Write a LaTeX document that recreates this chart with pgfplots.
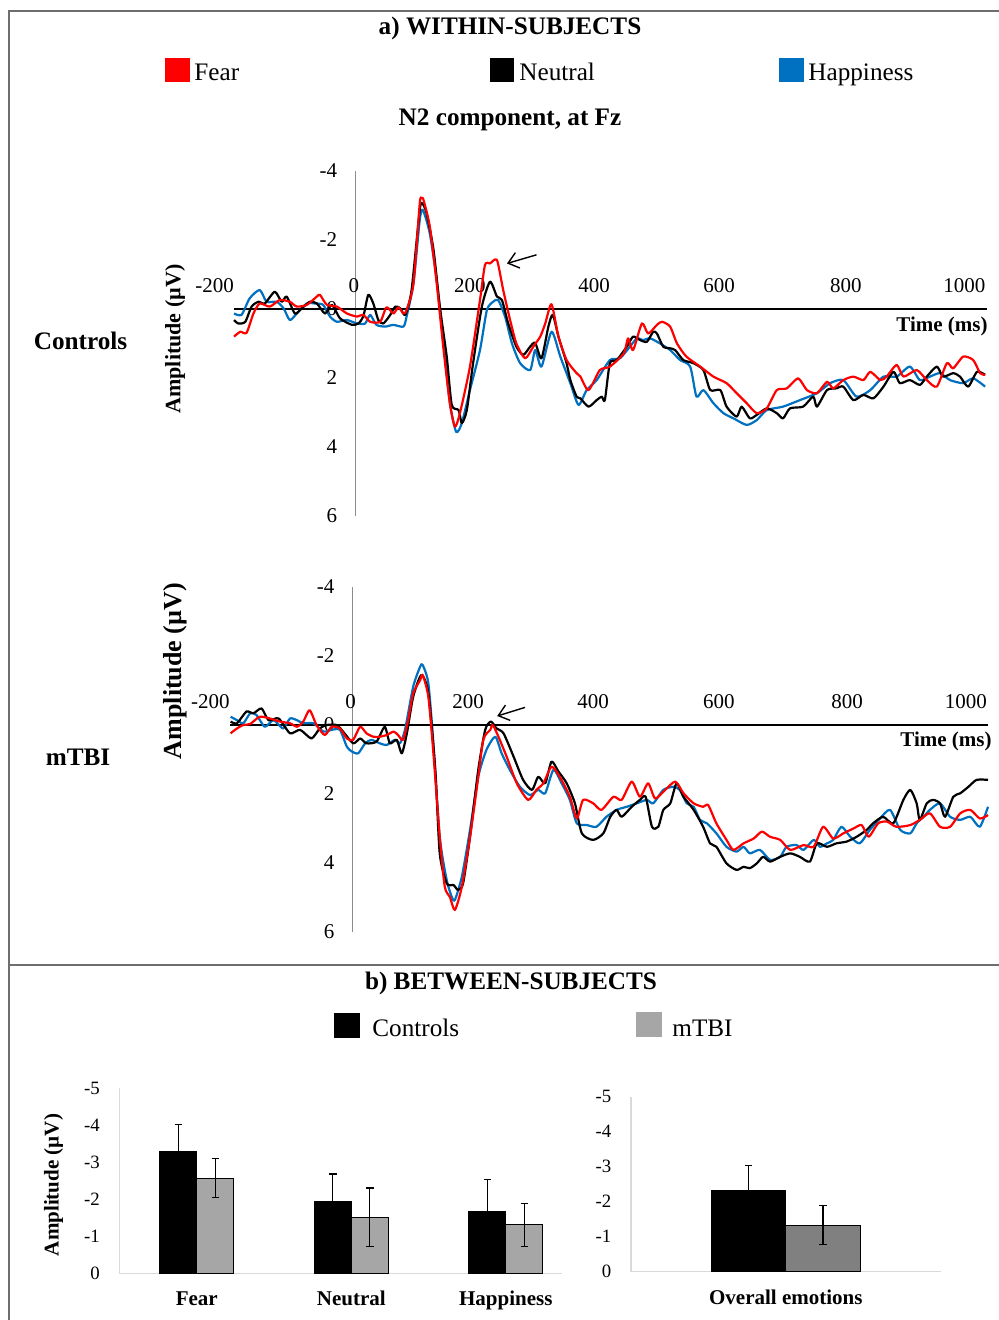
\documentclass[border=0pt]{standalone}
\usepackage{fontspec}
\setmainfont{Liberation Serif}
\usepackage{pgfplots}
\pgfplotsset{compat=1.18}
\usetikzlibrary{arrows.meta}

\definecolor{fearred}{RGB}{255,0,0}
\definecolor{happyblue}{RGB}{0,112,192}
\definecolor{framegray}{RGB}{110,110,110}
\definecolor{lightbar}{RGB}{166,166,166}
\definecolor{darkbar}{RGB}{128,128,128}
\definecolor{axgray}{RGB}{217,217,217}
\definecolor{yaxgray}{RGB}{140,140,140}

% 1 px of the reference = 0.5pt
\newcommand\fA{\fontsize{12.6}{15}\selectfont}
\newcommand\fB{\fontsize{10.5}{12}\selectfont}
\newcommand\fC{\fontsize{9.4}{11}\selectfont}

\pgfplotsset{
  erp/.style={scale only axis, hide axis, clip=false,
    xmin=-200, xmax=1000, ymin=-4, ymax=6, y dir=reverse},
  erpline/.style={line width=1.1pt, line join=round, smooth, tension=0.4},
  bars/.style={scale only axis, clip=false, y dir=reverse, ymin=-5, ymax=0,
    axis line style={draw=none}, major tick length=0pt, xtick=\empty,
    ytick={-5,-4,-3,-2,-1,0}, yticklabels={-5,-4,-3,-2,-1,0},
    yticklabel style={font=\fC, inner sep=0pt, xshift=-9.7pt},
    ybar=0pt,
    error bars/y dir=both, error bars/y explicit,
    error bars/error bar style={black, line width=0.6pt},
    error bars/error mark options={black, line width=0.6pt, mark size=1.9pt, rotate=90}},
}

\begin{document}
\begin{tikzpicture}
\begin{scope}[x=0.5pt,y=-0.5pt]
\path[use as bounding box] (0,0) rectangle (999,1320);
\fill[white] (0,0) rectangle (999,1320);
% frame
\draw[framegray, line width=1pt] (999,11) -- (9,11) -- (9,1320);
\draw[framegray, line width=1pt] (9,965) -- (999,965);
% panel a headings and legend
\node[font=\bfseries\fA, anchor=base] at (510,35) {a) WITHIN-SUBJECTS};
\fill[fearred] (164.5,58.5) rectangle (189.5,82.5);
\node[font=\fA, anchor=base west, inner sep=0] at (194,81) {Fear};
\fill[black] (489.5,58.5) rectangle (514,82.5);
\node[font=\fA, anchor=base west, inner sep=0] at (519,81) {Neutral};
\fill[happyblue] (779,58.5) rectangle (804,82.5);
\node[font=\fA, anchor=base west, inner sep=0] at (808,81) {Happiness};
\node[font=\bfseries\fA, anchor=base] at (510,126) {N2 component, at Fz};
\node[font=\bfseries\fA, anchor=base] at (80.5,350) {Controls};
\node[font=\bfseries\fA, anchor=base] at (78,765) {mTBI};
\node[font=\bfseries\fontsize{11}{13}\selectfont, rotate=90] at (175,339) {Amplitude (µV)};
\node[font=\bfseries\fontsize{13}{15}\selectfont, rotate=90] at (175,671) {Amplitude (µV)};
% panel b headings and legend
\node[font=\bfseries\fA, anchor=base] at (511,989) {b) BETWEEN-SUBJECTS};
\fill[black] (334,1013) rectangle (360,1038);
\node[font=\fA, anchor=base west, inner sep=0] at (372,1036.5) {Controls};
\fill[lightbar] (636,1012) rectangle (662,1037);
\node[font=\fA, anchor=base west, inner sep=0] at (672,1036.5) {mTBI};
\node[font=\bfseries\fB, rotate=90] at (53.5,1185) {Amplitude (µV)};
\end{scope}

% ---------- Controls ERP ----------
\begin{axis}[erp, at={(305.25pt,-171.75pt)}, anchor=center, width=376.5pt, height=172.5pt]
\draw[yaxgray, line width=0.6pt] (axis cs:-7,-4) -- (axis cs:-7,6);
\draw[black, line width=0.75pt] (axis cs:-200,0) -- (axis cs:1000,0);
\node[font=\fB, anchor=base] at (axis cs:-231,0) [yshift=8.5pt] {-200};
\node[font=\fB, anchor=base] at (axis cs:-9,0) [yshift=8.5pt] {0};
\node[font=\fB, anchor=base] at (axis cs:176,0) [yshift=8.5pt] {200};
\node[font=\fB, anchor=base] at (axis cs:374,0) [yshift=8.5pt] {400};
\node[font=\fB, anchor=base] at (axis cs:573,0) [yshift=8.5pt] {600};
\node[font=\fB, anchor=base] at (axis cs:775,0) [yshift=8.5pt] {800};
\node[font=\fB, anchor=base] at (axis cs:964,0) [yshift=8.5pt] {1000};
\node[font=\fB, anchor=east, inner sep=0] at (axis cs:-35,-4) {-4};
\node[font=\fB, anchor=east, inner sep=0] at (axis cs:-35,-2) {-2};
\node[font=\fB, anchor=east, inner sep=0] at (axis cs:-35,0) {0};
\node[font=\fB, anchor=east, inner sep=0] at (axis cs:-35,2) {2};
\node[font=\fB, anchor=east, inner sep=0] at (axis cs:-35,4) {4};
\node[font=\fB, anchor=east, inner sep=0] at (axis cs:-35,6) {6};
\node[font=\bfseries\fB, anchor=east, inner sep=0] at (axis cs:1000,0) [xshift=0.5pt, yshift=-8.5pt] {Time (ms)};
\addplot[happyblue, erpline] coordinates {
(-200,0.13) (-188,0.17) (-175,-0.31) (-159,-0.55) (-148,-0.21) (-132,-0.21) (-121,-0.02) (-111,0.32) (-100,0.13) (-84,-0.16) (-71,-0.16) (-58,-0.12) (-47,0.22) (-36,0.37) (-20,0.32) (-4,0.42) (9,0.42) (17,0.17) (27,0.46) (41,0.51) (54,0.46) (70,0.51) (75,0.22) (86,-0.74) (96,-2.58) (101,-2.87) (112,-2.19) (123,-0.84) (134,1.00) (144,2.73) (154,3.56) (163,3.31) (176,2.35) (192,1.19) (203,0.03) (213,-0.21) (221,-0.26) (232,0.22) (243,1.00) (256,1.57) (272,1.77) (280,1.19) (290,1.67) (306,0.66) (320,1.38) (336,2.15) (349,2.78) (362,2.35) (378,2.06) (399,1.48) (415,1.43) (431,1.09) (442,0.85) (452,0.90) (463,0.85) (479,1.00) (495,1.19) (511,1.48) (527,1.67) (537,2.54) (548,2.35) (564,2.73) (580,3.02) (596,3.17) (617,3.36) (633,3.22) (649,2.93) (675,2.83) (702,2.64) (729,2.44) (750,2.15) (771,2.06) (792,2.54) (814,2.35) (835,1.96) (856,1.96) (877,1.67) (893,2.06) (909,1.96) (925,1.86) (941,2.06) (962,2.15) (978,2.01) (997,2.25)
};
\addplot[black, erpline] coordinates {
(-200,0.32) (-193,0.42) (-182,0.37) (-172,-0.07) (-161,-0.21) (-151,-0.16) (-135,-0.50) (-124,-0.21) (-116,-0.36) (-103,0.13) (-92,-0.02) (-79,-0.21) (-68,-0.16) (-55,0.13) (-44,-0.12) (-31,0.27) (-12,0.46) (-2,0.42) (6,0.22) (14,-0.41) (22,-0.16) (30,0.32) (38,0.42) (49,0.17) (57,-0.07) (65,-0.02) (73,0.17) (83,-0.55) (96,-2.87) (100,-3.06) (107,-2.77) (118,-1.71) (128,-0.07) (139,1.38) (147,2.78) (158,2.93) (163,3.31) (171,2.93) (181,1.57) (195,-0.07) (208,-0.79) (219,-0.36) (227,-0.26) (237,0.42) (250,1.09) (261,1.33) (272,1.09) (280,0.98) (290,1.43) (301,0.51) (308,0.17) (317,0.80) (322,1.09) (330,1.57) (336,2.06) (346,2.54) (352,2.59) (365,2.83) (378,2.64) (386,2.54) (391,2.64) (399,1.57) (410,1.48) (426,1.09) (436,0.80) (447,0.90) (458,0.95) (468,0.66) (474,0.71) (484,1.09) (495,1.14) (503,1.19) (516,1.48) (532,1.57) (548,1.77) (559,2.35) (575,2.35) (585,2.83) (601,3.12) (609,2.83) (622,3.17) (633,3.07) (649,2.88) (665,3.02) (675,3.17) (686,2.88) (707,2.83) (723,2.54) (729,2.83) (745,2.35) (760,2.30) (771,2.25) (787,2.64) (803,2.49) (819,2.59) (835,2.25) (851,1.82) (861,2.15) (877,2.06) (893,2.20) (904,1.96) (920,1.67) (930,1.96) (946,1.86) (957,1.96) (970,2.25) (984,1.82) (997,1.91)
};
\addplot[fearred, erpline] coordinates {
(-200,0.80) (-190,0.66) (-180,0.69) (-169,0.13) (-159,-0.16) (-143,-0.07) (-127,-0.26) (-111,-0.21) (-100,-0.07) (-84,-0.12) (-68,-0.36) (-63,-0.41) (-52,-0.12) (-36,-0.07) (-20,0.13) (-4,0.22) (6,0.17) (17,0.37) (33,0.37) (43,-0.05) (54,0.13) (62,-0.05) (70,0.13) (75,0.03) (86,-0.74) (96,-3.06) (99,-3.21) (102,-3.16) (112,-2.39) (123,-0.74) (134,1.19) (144,2.73) (152,3.41) (160,3.02) (176,1.67) (192,-0.26) (200,-1.28) (208,-1.32) (219,-1.42) (229,-0.55) (240,0.32) (250,1.00) (264,1.43) (277,1.09) (288,0.80) (296,0.42) (306,-0.14) (317,0.80) (330,1.48) (346,1.86) (352,1.96) (365,2.35) (383,1.77) (399,1.67) (421,1.29) (428,0.85) (436,1.19) (450,0.42) (460,0.71) (474,0.46) (482,0.37) (495,0.51) (506,1.00) (521,1.38) (543,1.67) (564,1.96) (585,2.15) (601,2.44) (617,2.73) (633,3.02) (649,2.88) (665,2.35) (681,2.30) (699,2.01) (713,2.35) (729,2.44) (745,2.11) (755,2.30) (771,2.06) (787,1.96) (803,2.06) (814,1.82) (830,2.06) (840,1.96) (856,1.62) (867,1.96) (888,1.77) (904,2.06) (920,2.25) (936,1.57) (946,1.72) (962,1.38) (978,1.48) (989,1.86) (997,1.91)
};
\draw[black, line width=0.7pt, -{Straight Barb[length=5pt,width=8pt]}] (axis cs:282,-1.57) -- (axis cs:235,-1.32);
\end{axis}

% ---------- mTBI ERP ----------
\begin{axis}[erp, at={(304.5pt,-379.75pt)}, anchor=center, width=379pt, height=172.5pt]
\draw[yaxgray, line width=0.6pt] (axis cs:-6,-4) -- (axis cs:-6,6);
\draw[black, line width=0.75pt] (axis cs:-200,0) -- (axis cs:1000,0);
\node[font=\fB, anchor=base] at (axis cs:-231,0) [yshift=8.5pt] {-200};
\node[font=\fB, anchor=base] at (axis cs:-9,0) [yshift=8.5pt] {0};
\node[font=\fB, anchor=base] at (axis cs:177,0) [yshift=8.5pt] {200};
\node[font=\fB, anchor=base] at (axis cs:375,0) [yshift=8.5pt] {400};
\node[font=\fB, anchor=base] at (axis cs:574,0) [yshift=8.5pt] {600};
\node[font=\fB, anchor=base] at (axis cs:777,0) [yshift=8.5pt] {800};
\node[font=\fB, anchor=base] at (axis cs:965,0) [yshift=8.5pt] {1000};
\node[font=\fB, anchor=east, inner sep=0] at (axis cs:-34,-4) {-4};
\node[font=\fB, anchor=east, inner sep=0] at (axis cs:-34,-2) {-2};
\node[font=\fB, anchor=east, inner sep=0] at (axis cs:-34,0) {0};
\node[font=\fB, anchor=east, inner sep=0] at (axis cs:-34,2) {2};
\node[font=\fB, anchor=east, inner sep=0] at (axis cs:-34,4) {4};
\node[font=\fB, anchor=east, inner sep=0] at (axis cs:-34,6) {6};
\node[font=\bfseries\fB, anchor=east, inner sep=0] at (axis cs:1000,0) [xshift=2pt, yshift=-8pt] {Time (ms)};
\addplot[happyblue, erpline] coordinates {
(-199,-0.24) (-189,-0.14) (-179,-0.05) (-168,-0.34) (-158,-0.29) (-145,0.05) (-131,-0.14) (-116,0.10) (-105,-0.19) (-94,-0.14) (-84,-0.05) (-68,-0.05) (-52,0.19) (-39,0.14) (-26,0.14) (-15,0.63) (-7,0.77) (3,0.82) (14,0.53) (24,0.43) (37,0.53) (48,0.58) (61,0.43) (69,0.53) (77,0.14) (90,-1.11) (101,-1.69) (105,-1.74) (114,-1.21) (122,0.53) (132,3.24) (143,4.49) (151,4.98) (156,5.07) (167,4.40) (180,3.04) (193,1.50) (206,0.72) (220,0.34) (230,0.82) (243,1.30) (259,1.79) (275,2.03) (288,1.88) (299,1.98) (312,1.30) (325,1.69) (338,2.17) (349,2.85) (365,2.90) (380,2.95) (396,2.66) (412,2.46) (428,2.37) (444,2.27) (460,2.17) (470,2.27) (486,1.88) (502,1.79) (512,1.88) (523,2.27) (534,2.37) (544,2.75) (555,2.85) (570,3.14) (586,3.53) (602,3.67) (613,3.53) (623,3.72) (639,3.62) (655,3.91) (671,3.82) (681,3.53) (697,3.48) (708,3.62) (724,3.33) (734,3.53) (745,3.43) (755,3.33) (768,2.95) (782,3.24) (797,3.43) (813,3.04) (829,2.71) (845,2.46) (861,3.04) (877,3.14) (887,2.85) (898,2.66) (908,2.46) (924,2.27) (940,2.66) (956,2.75) (972,2.66) (987,2.95) (1000,2.37)
};
\addplot[black, erpline] coordinates {
(-199,-0.10) (-189,-0.05) (-174,-0.39) (-163,-0.34) (-150,-0.48) (-139,-0.14) (-123,-0.19) (-105,0.24) (-89,0.14) (-71,0.39) (-58,0.10) (-47,0.00) (-31,0.00) (-21,0.19) (-5,0.53) (6,0.39) (16,0.53) (32,0.48) (45,0.05) (53,0.53) (64,0.43) (72,0.82) (80,0.24) (90,-0.82) (103,-1.45) (114,-0.92) (125,1.30) (132,3.72) (143,4.59) (154,4.64) (161,4.78) (169,4.59) (180,3.24) (193,1.30) (204,0.14) (213,-0.10) (222,0.10) (233,0.24) (249,0.92) (264,1.59) (278,1.88) (288,1.50) (299,1.69) (309,1.06) (320,1.35) (333,1.69) (346,2.27) (357,3.14) (375,3.33) (391,3.14) (402,2.66) (412,2.46) (420,2.66) (436,2.37) (449,2.17) (458,2.08) (468,2.95) (478,2.95) (486,2.46) (497,2.27) (507,1.69) (518,2.08) (534,2.46) (549,2.95) (560,3.43) (570,3.53) (586,4.01) (602,4.20) (613,4.11) (623,4.15) (634,4.01) (644,3.82) (655,3.96) (671,3.82) (687,3.72) (702,3.82) (718,3.96) (729,3.43) (745,3.53) (760,3.43) (776,3.38) (792,3.24) (808,3.04) (818,2.85) (834,2.66) (850,2.85) (866,2.17) (877,1.88) (887,2.27) (892,2.75) (903,2.27) (913,2.17) (924,2.27) (932,2.66) (945,2.08) (956,1.98) (969,1.79) (982,1.59) (1000,1.59)
};
\addplot[fearred, erpline] coordinates {
(-199,0.24) (-189,0.10) (-179,0.00) (-168,-0.03) (-153,-0.24) (-137,-0.19) (-121,-0.10) (-105,-0.05) (-94,0.05) (-84,-0.10) (-74,-0.43) (-63,0.00) (-50,0.29) (-39,0.05) (-26,0.10) (-15,0.39) (-5,0.43) (6,0.05) (16,0.24) (27,0.34) (37,0.34) (48,0.29) (59,0.19) (66,0.29) (74,0.43) (82,-0.14) (90,-0.92) (101,-1.30) (105,-1.45) (114,-0.82) (122,0.82) (132,3.24) (140,4.69) (148,4.98) (156,5.36) (167,4.69) (180,3.24) (191,1.79) (201,0.43) (212,0.14) (216,0.00) (225,0.34) (238,0.92) (254,1.69) (272,2.17) (285,1.88) (296,1.69) (309,1.21) (322,1.50) (338,2.08) (349,2.71) (359,2.17) (375,2.27) (388,2.46) (407,2.08) (420,2.17) (436,1.64) (449,2.08) (462,1.69) (473,2.13) (489,1.88) (505,1.64) (518,1.98) (534,2.27) (549,2.37) (557,2.32) (570,2.85) (586,3.33) (597,3.62) (613,3.43) (629,3.29) (642,3.09) (655,3.24) (671,3.33) (687,3.62) (708,3.48) (724,3.53) (739,2.95) (755,3.29) (771,3.14) (787,3.00) (800,2.90) (811,3.24) (826,2.85) (840,2.80) (855,2.95) (877,2.90) (892,2.75) (908,2.56) (924,2.95) (940,2.95) (956,2.56) (972,2.46) (987,2.71) (1000,2.61)
};
\draw[black, line width=0.7pt, -{Straight Barb[length=5pt,width=8pt]}] (axis cs:267,-0.51) -- (axis cs:223,-0.26);
\end{axis}

% ---------- bars: per emotion ----------
\begin{axis}[bars, at={(170.4pt,-590.3pt)}, anchor=center, width=221.25pt, height=92.65pt,
  xmin=-0.5, xmax=2.364, bar width=18.5pt]
\draw[axgray, line width=0.75pt] (axis cs:-0.5,-5) -- (axis cs:-0.5,0) -- (axis cs:2.364,0);
\node[font=\bfseries\fB, anchor=base] at (axis cs:0,0) [yshift=-16.3pt] {Fear};
\node[font=\bfseries\fB, anchor=base] at (axis cs:1,0) [yshift=-16.3pt] {Neutral};
\node[font=\bfseries\fB, anchor=base] at (axis cs:2,0) [yshift=-16.3pt] {Happiness};
\addplot[fill=black, draw=black, line width=0.5pt] coordinates {
(0,-3.29) +- (0,0.72) (1,-1.94) +- (0,0.74) (2,-1.66) +- (0,0.86)
};
\addplot[fill=lightbar, draw=black, line width=0.5pt] coordinates {
(0,-2.57) +- (0,0.52) (1,-1.51) +- (0,0.79) (2,-1.31) +- (0,0.58)
};
\end{axis}

% ---------- bars: overall ----------
\begin{axis}[bars, at={(392.9pt,-592.1pt)}, anchor=center, width=154.85pt, height=87.5pt,
  xmin=-0.5, xmax=0.5, bar width=37.15pt]
\draw[axgray, line width=0.75pt] (axis cs:-0.5,-5) -- (axis cs:-0.5,0) -- (axis cs:0.5,0);
\node[font=\bfseries\fB, anchor=base] at (axis cs:0,0) [yshift=-16.3pt] {Overall emotions};
\addplot[fill=black, draw=black, line width=0.5pt] coordinates {(0,-2.31) +- (0,0.72)};
\addplot[fill=darkbar, draw=black, line width=0.5pt] coordinates {(0,-1.33) +- (0,0.56)};
\end{axis}
\end{tikzpicture}
\end{document}
